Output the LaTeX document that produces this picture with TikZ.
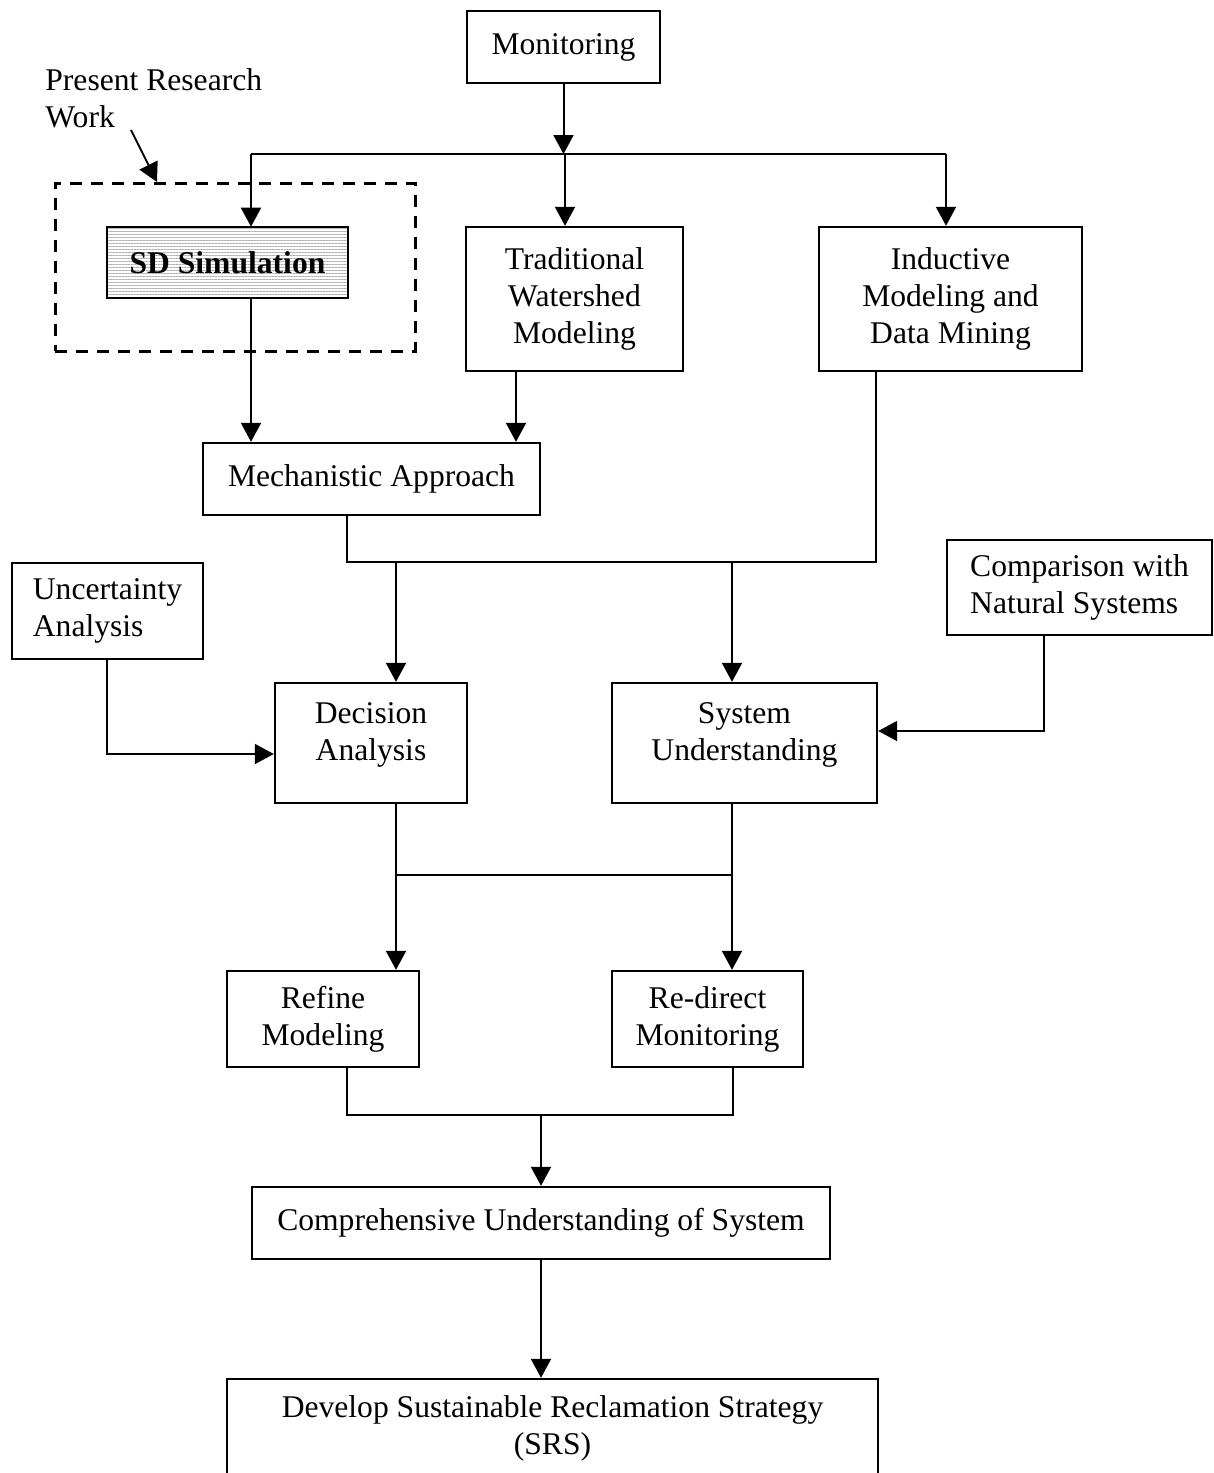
\documentclass[tikz,border=0pt]{standalone}
\usepackage{fontspec}
\setmainfont{Liberation Serif}
\usetikzlibrary{arrows.meta,patterns.meta,calc}
\begin{document}
\begin{tikzpicture}[x=0.5pt,y=-0.5pt,
  txt/.style={font=\fontsize{15.8}{18.5}\selectfont},
  box/.style={draw, line width=1.2pt, inner sep=0pt, align=center, txt},
  conn/.style={line width=1pt},
  arr/.style={conn, -{Triangle[length=9.5pt,width=10pt]}}]
\useasboundingbox (0,0) rectangle (1214,1473);
\clip (0,0) rectangle (1214,1473);
% boxes
\node[box, minimum width=96.5pt, minimum height=36pt] (mon) at (563.5,47) {Monitoring};
\node[draw, dash pattern=on 6pt off 4.5pt, line width=1.5pt, minimum width=180pt, minimum height=84pt, inner sep=0pt] (present) at (235,267) {};
\node[box, minimum width=120.5pt, minimum height=35.5pt,
      pattern={Lines[angle=0,distance=1.5pt,line width=0.3pt]}, pattern color=black!30,
      font=\fontsize{15.8}{18.5}\selectfont\bfseries] (sd) at (227.5,262.5) {SD Simulation};
\node[box, minimum width=108.5pt, minimum height=72pt] (trad) at (574.5,299) {Traditional\\Watershed\\Modeling};
\node[box, minimum width=131.5pt, minimum height=72pt] (ind) at (950.5,299) {Inductive\\Modeling and\\Data Mining};
\node[box, minimum width=168.5pt, minimum height=36pt] (mech) at (371.5,479) {Mechanistic Approach};
\node[box, align=left, minimum width=95.5pt, minimum height=48pt] (unc) at (107.5,611) {Uncertainty\\Analysis};
\node[box, align=left, minimum width=132.5pt, minimum height=47.5pt] (comp) at (1079.5,587.5) {Comparison with\\Natural Systems};
\node[box, minimum width=96pt, minimum height=60pt,
      label={[align=center,txt,yshift=4pt]center:Decision\\Analysis}] (dec) at (371,743) {};
\node[box, minimum width=132.5pt, minimum height=60pt,
      label={[align=center,txt,yshift=4pt]center:System\\Understanding}] (sys) at (744.5,743) {};
\node[box, minimum width=96pt, minimum height=48pt] (ref) at (323,1019) {Refine\\Modeling};
\node[box, minimum width=95.5pt, minimum height=48pt] (red) at (707.5,1019) {Re-direct\\Monitoring};
\node[box, minimum width=289pt, minimum height=36pt] (cus) at (541,1223) {Comprehensive Understanding of System};
\node[box, minimum width=325.5pt, minimum height=49pt] (dev) at (552.5,1428) {Develop Sustainable Reclamation Strategy\\(SRS)};
% annotation
\node[anchor=north west, align=left, inner sep=0pt, txt] (prtext) at (45,68) {Present Research\\Work};
\coordinate (pra) at (131,130);
\coordinate (prb) at (157,182);
\draw[arr] (pra) -- (prb);
% connectors
\coordinate (j1) at (564,154);
\coordinate (tL) at (251,154);
\coordinate (tM) at (565,154);
\coordinate (tR) at (946,154);
\draw[arr] (mon.south) -- (mon.south |- j1);
\draw[conn] (tL) -- (tR);
\draw[arr] (tL) -- (tL |- sd.north);
\draw[arr] (tM) -- (tM |- trad.north);
\draw[arr] (tR) -- (tR |- ind.north);
\coordinate (xt) at (516,0);
\draw[arr] (sd.south -| tL) -- (mech.north -| tL);
\draw[arr] (trad.south -| xt) -- (mech.north -| xt);
\coordinate (m1) at (347,562);
\coordinate (m2) at (876,562);
\coordinate (md) at (396,562);
\coordinate (ms) at (732,562);
\draw[conn] (mech.south -| m1) -- (m1) -- (m2) -- (ind.south -| m2);
\draw[arr] (md) -- (dec.north -| md);
\draw[arr] (ms) -- (sys.north -| ms);
\coordinate (u1) at (107,754);
\draw[arr] (unc.south -| u1) -- (u1) -- (dec.west |- u1);
\coordinate (c1) at (1044,731);
\draw[arr] (comp.south -| c1) -- (c1) -- (sys.east |- c1);
\draw[arr] (dec.south -| md) -- (ref.north -| md);
\draw[arr] (sys.south -| ms) -- (red.north -| ms);
\coordinate (h1) at (396,875);
\coordinate (h2) at (732,875);
\draw[conn] (h1) -- (h2);
\coordinate (r1) at (347,1115);
\coordinate (r2) at (733,1115);
\coordinate (r3) at (541,1115);
\draw[conn] (ref.south -| r1) -- (r1) -- (r2) -- (red.south -| r2);
\draw[arr] (r3) -- (cus.north -| r3);
\draw[arr] (cus.south -| r3) -- (dev.north -| r3);
\end{tikzpicture}
\end{document}
